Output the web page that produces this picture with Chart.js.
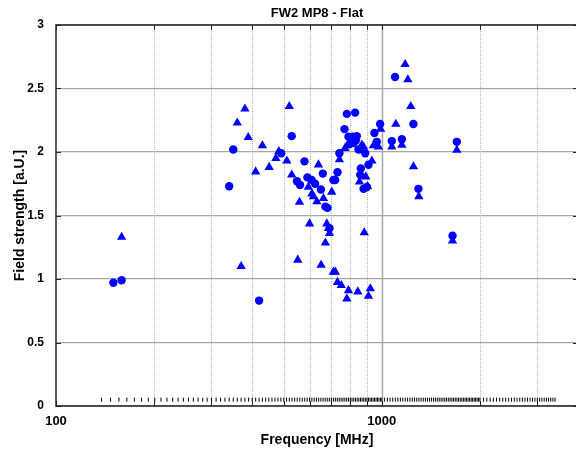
<!DOCTYPE html>
<html>
<head>
<meta charset="utf-8">
<title>FW2 MP8 - Flat</title>
<script src="https://cdn.jsdelivr.net/npm/chart.js@4.4.0/dist/chart.umd.min.js"></script>
<style>
  html, body { margin: 0; padding: 0; background: #fff; overflow: hidden; }
  #wrap { position: relative; width: 600px; height: 452px; }
</style>
</head>
<body>
<div id="wrap"><canvas id="myChart" width="600" height="452"></canvas></div>
<script>
// Texts
const chartTitle = 'FW2 MP8 - Flat';
const xLabel = 'Frequency [MHz]';
const yLabel = 'Field strength [a.U.]';

// Axis ticks
const xGridTicks = [100, 200, 300, 400, 500, 600, 700, 800, 900, 1000, 2000, 3000];
const xLabeledTicks = [100, 1000];
const yTicks = [0, 0.5, 1, 1.5, 2, 2.5, 3];

// Series 1 (circles)
const circleFreq = [150, 159, 340, 350, 420, 491, 529, 579, 549, 561, 591, 609, 624, 659, 650, 671, 681,
  710, 719, 731, 691, 781, 828, 768, 790, 815, 838, 795, 818, 832, 741, 848, 889, 910, 862, 858, 879, 900,
  949, 988, 965, 1073, 1152, 1098, 1250, 1295, 1699, 1648];
const circleField = [0.97, 0.99, 1.73, 2.02, 0.83, 1.99, 2.125, 1.926, 1.77, 1.74, 1.80, 1.78, 1.75, 1.83, 1.705, 1.57, 1.56,
  1.78, 1.78, 1.84, 1.40, 2.30, 2.31, 2.18, 2.12, 2.12, 2.125, 2.06, 2.07, 2.09, 1.99, 2.02, 1.99, 1.90, 1.87, 1.82, 1.71, 1.725,
  2.15, 2.22, 2.08, 2.086, 2.10, 2.59, 2.22, 1.71, 2.08, 1.34];

// Series 2 (triangles)
const triangleFreq = [159, 360, 380, 389, 370, 410, 430, 451, 473, 483, 511, 520, 529, 552, 559, 595, 610, 617, 632, 662,
  639, 600, 651, 678, 686, 691, 671, 702, 710, 720, 731, 751, 781, 790, 844, 910, 922, 741, 771, 804, 868, 854, 893,
  904, 883, 932, 942, 976, 991, 1073, 1104, 1152, 1179, 1202, 1227, 1250, 1299, 1648, 1699, 879];
const triangleField = [1.33, 2.23, 2.34, 2.115, 1.10, 1.845, 2.05, 1.88, 1.95, 2.005, 1.93, 2.36, 1.82, 1.15, 1.605, 1.725, 1.67, 1.65, 1.61, 1.635,
  1.90, 1.435, 1.11, 1.435, 1.40, 1.36, 1.285, 1.685, 1.055, 1.055, 0.975, 0.95, 0.845, 0.91, 0.90, 0.865, 0.925, 1.94, 2.03, 2.07, 2.055, 1.765, 1.805,
  1.73, 1.365, 1.93, 2.05, 2.04, 2.18, 2.04, 2.22, 2.055, 2.69, 2.57, 2.36, 1.885, 1.65, 1.30, 2.015, 2.04];

// Sweep frequencies (short black marks near the bottom)
const sweepLevel = 0.05;
const sweepFreq = [138, 147, 156, 165, 174, 183, 192, 201, 210, 219, 228, 237, 246, 255, 264, 273, 282, 291, 300,
  310, 320, 330, 340, 350, 360, 370, 380, 390, 400, 410, 420, 430, 440, 450, 460, 470, 480, 490, 500,
  510, 520, 530, 540, 550, 560, 570, 580, 590, 600, 610, 620, 630, 640, 650, 660, 670, 680, 690, 700,
  710, 720, 730, 740, 750, 760, 770, 780, 790, 800, 810, 820, 830, 840, 850, 860, 870, 880, 890, 900,
  910, 920, 930, 940, 950, 960, 970, 980, 990, 1000,
  1020, 1040, 1060, 1080, 1100, 1120, 1140, 1160, 1180, 1200, 1220, 1240, 1260, 1280, 1300, 1320, 1340, 1360, 1380, 1400,
  1420, 1440, 1460, 1480, 1500, 1520, 1540, 1560, 1580, 1600, 1620, 1640, 1660, 1680, 1700, 1720, 1740, 1760, 1780, 1800,
  1820, 1840, 1860, 1880, 1900, 1920, 1940, 1960, 1980, 2000,
  2050, 2100, 2150, 2200, 2250, 2300, 2350, 2400, 2450, 2500, 2550, 2600, 2650, 2700, 2750, 2800, 2850, 2900, 2950, 3000,
  3050, 3100, 3150, 3200, 3250, 3300, 3350, 3400];

const FONT = 'Liberation Sans, Arial, Helvetica, sans-serif';

document.addEventListener('DOMContentLoaded', () => {
    const toPoints = (xs, ys) => xs.map((x, i) => ({ x: x, y: ys[i] }));

    // grid, box and tick marks drawn MATLAB style
    const framePlugin = {
        id: 'frame',
        beforeDatasetsDraw(chart) {
            const { ctx, chartArea: a, scales } = chart;
            const sx = scales.x, sy = scales.y;
            ctx.save();
            // vertical grid
            xGridTicks.forEach(v => {
                if (v === 100) return;
                const px = Math.round(sx.getPixelForValue(v)) + 0.5;
                ctx.beginPath();
                if (v === 1000) {
                    ctx.strokeStyle = '#a6a6a6';
                    ctx.lineWidth = 1.5;
                    ctx.setLineDash([]);
                } else {
                    ctx.strokeStyle = '#b8b8b8';
                    ctx.lineWidth = 1;
                    ctx.setLineDash([1, 1]);
                }
                ctx.moveTo(px, a.top);
                ctx.lineTo(px, a.bottom);
                ctx.stroke();
            });
            ctx.setLineDash([]);
            // box
            ctx.strokeStyle = '#262626';
            ctx.lineWidth = 1.5;
            ctx.strokeRect(a.left, a.top, a.right - a.left, a.bottom - a.top);
            // tick marks
            ctx.lineWidth = 1;
            ctx.beginPath();
            yTicks.forEach(v => {
                const py = Math.round(sy.getPixelForValue(v)) + 0.5;
                ctx.moveTo(a.left, py); ctx.lineTo(a.left + 5, py);
                ctx.moveTo(a.right, py); ctx.lineTo(a.right - 5, py);
            });
            xGridTicks.forEach(v => {
                const px = Math.round(sx.getPixelForValue(v)) + 0.5;
                ctx.moveTo(px, a.bottom); ctx.lineTo(px, a.bottom - 5);
                ctx.moveTo(px, a.top); ctx.lineTo(px, a.top + 5);
            });
            ctx.stroke();
            ctx.restore();
        },
        afterDraw(chart) {
            const { ctx, chartArea: a } = chart;
            ctx.save();
            ctx.fillStyle = '#000';
            ctx.font = 'bold 13px ' + FONT;
            ctx.textAlign = 'center';
            ctx.textBaseline = 'middle';
            ctx.fillText(chartTitle, (a.left + a.right) / 2, 13);
            ctx.font = 'bold 14px ' + FONT;
            ctx.fillText(xLabel, (a.left + a.right) / 2, 440);
            ctx.translate(20, (a.top + a.bottom) / 2);
            ctx.rotate(-Math.PI / 2);
            ctx.fillText(yLabel, 0, 0);
            ctx.restore();
        }
    };

    const ctx = document.getElementById('myChart').getContext('2d');
    new Chart(ctx, {
        type: 'scatter',
        data: {
            datasets: [{
                label: 'Sweep',
                data: sweepFreq.map(f => ({ x: f, y: sweepLevel })),
                pointStyle: 'line',
                rotation: 90,
                pointRadius: 2,
                borderColor: '#000',
                backgroundColor: '#000',
                borderWidth: 1
            }, {
                label: 'Circles',
                data: toPoints(circleFreq, circleField),
                pointStyle: 'circle',
                pointRadius: 4.2,
                backgroundColor: '#0000ff',
                borderColor: '#0000ff',
                borderWidth: 0
            }, {
                label: 'Triangles',
                data: toPoints(triangleFreq, triangleField),
                pointStyle: 'triangle',
                pointRadius: 5.4,
                backgroundColor: '#0000ff',
                borderColor: '#0000ff',
                borderWidth: 0
            }]
        },
        options: {
            responsive: false,
            animation: false,
            events: [],
            layout: { padding: { top: 25, right: 22, left: 0, bottom: 0 } },
            plugins: { legend: { display: false }, tooltip: { enabled: false }, title: { display: false } },
            scales: {
                x: {
                    type: 'logarithmic',
                    min: 100,
                    max: 4000,
                    afterBuildTicks: s => { s.ticks = xGridTicks.map(v => ({ value: v })); },
                    afterFit: s => { s.height = 46; },
                    grid: { display: false, drawTicks: false },
                    border: { display: false },
                    ticks: {
                        autoSkip: false, maxRotation: 0, padding: 8, color: '#000',
                        font: { family: FONT, size: 13, weight: 'bold' },
                        callback: v => xLabeledTicks.includes(v) ? String(v) : ''
                    }
                },
                y: {
                    min: 0,
                    max: 3,
                    afterBuildTicks: s => { s.ticks = yTicks.map(v => ({ value: v })); },
                    afterFit: s => { s.width = 56; },
                    grid: { color: '#a6a6a6', lineWidth: 1.2, drawTicks: false },
                    border: { display: false },
                    ticks: {
                        padding: 12, color: '#000',
                        font: { family: FONT, size: 12, weight: 'bold' },
                        callback: v => String(v)
                    }
                }
            }
        },
        plugins: [framePlugin]
    });
});
</script>
</body>
</html>
